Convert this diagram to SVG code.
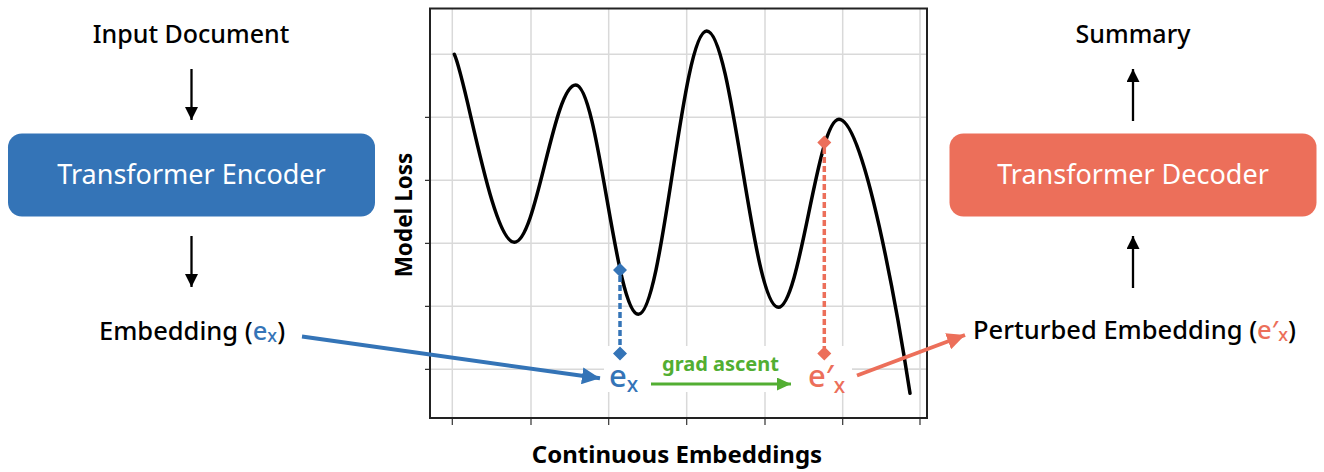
<svg xmlns="http://www.w3.org/2000/svg" width="1324" height="472" viewBox="0 0 1324 472">
<defs>
<style>
.t{font-family:"Noto Sans","Liberation Sans",sans-serif;fill:#000;font-weight:500}
.b{font-weight:bold}
.w{fill:#fff;font-weight:400}
.grid{stroke:#d9d9d9;stroke-width:1.5;fill:none}
.tick{stroke:#333;stroke-width:1.2}
.blk{stroke:#000;stroke-width:2.3;fill:none}
</style>
<marker id="ah" viewBox="0 0 13 13" refX="13" refY="6.5" markerWidth="13" markerHeight="13" markerUnits="userSpaceOnUse" orient="auto">
<path d="M0,0 L13,6.5 L0,13 Z" fill="#000"/>
</marker>
<marker id="ahb" viewBox="0 0 18 17" refX="18" refY="8.5" markerWidth="18" markerHeight="17" markerUnits="userSpaceOnUse" orient="auto">
<path d="M0,0 L18,8.5 L0,17 Z" fill="#3474B7"/>
</marker>
<marker id="ahr" viewBox="0 0 18 17" refX="18" refY="8.5" markerWidth="18" markerHeight="17" markerUnits="userSpaceOnUse" orient="auto">
<path d="M0,0 L18,8.5 L0,17 Z" fill="#EC6F5A"/>
</marker>
<marker id="ahg" viewBox="0 0 14 13" refX="14" refY="6.5" markerWidth="14" markerHeight="13" markerUnits="userSpaceOnUse" orient="auto">
<path d="M0,0 L14,6.5 L0,13 Z" fill="#52AE32"/>
</marker>
</defs>
<rect width="1324" height="472" fill="#fff"/>

<!-- plot -->
<g id="plot">
<g class="grid">
<path d="M452.3,8 V418 M531,8 V418 M608.7,8 V418 M686.7,8 V418 M765,8 V418 M842.7,8 V418 M920,8 V418"/>
<path d="M430,54.3 H927 M430,117.3 H927 M430,180.3 H927 M430,243.3 H927 M430,306.3 H927 M430,369.3 H927"/>
</g>
<rect x="604" y="346" width="248" height="46" fill="#fff"/>
<path class="grid" d="M852,369.3 H927"/>
<g class="tick">
<path d="M425,117.3 H430 M425,180.3 H430 M425,243.3 H430 M425,306.3 H430 M425,369.3 H430"/>
<path d="M452.3,418 V425 M531,418 V425 M608.7,418 V425 M686.7,418 V425 M765,418 V425 M842.7,418 V425 M920,418 V425"/>
</g>
<rect x="430" y="8.5" width="497" height="409.5" fill="none" stroke="#222" stroke-width="2"/>
<path d="M454.3,54.3 C466,78 492,242.3 514.3,242.3 C536.6,242.3 553.4,85 575.7,85 C598.4,85 615.6,314.3 638.3,314.3 C663.1,314.3 681.9,31 706.7,31 C732.7,31 752.3,307.3 778.3,307.3 C800.3,307.3 817,119.3 839,119.3 C864,119.3 898,315 910,393.3" fill="none" stroke="#000" stroke-width="3.5" stroke-linecap="round"/>
<text class="t b" x="0" y="0" font-size="22.5" text-anchor="middle" transform="translate(411.5,215) rotate(-90)">Model Loss</text>
<text class="t b" x="677" y="463" font-size="24" text-anchor="middle">Continuous Embeddings</text>
</g>

<!-- nodes -->
<g id="input-document">
<text class="t" x="191" y="43" font-size="25" text-anchor="middle">Input Document</text>
</g>
<g id="encoder">
<rect x="8" y="133.5" width="367" height="83" rx="14" fill="#3474B7"/>
<text class="t w" x="191.5" y="184" font-size="27" text-anchor="middle">Transformer Encoder</text>
</g>
<g id="embedding">
<text class="t" x="99" y="340" font-size="25.5">Embedding (<tspan fill="#3474B7">e</tspan><tspan fill="#3474B7" font-size="18" dy="2">x</tspan><tspan dy="-2">)</tspan></text>
</g>
<g id="summary">
<text class="t" x="1133" y="43" font-size="25" text-anchor="middle">Summary</text>
</g>
<g id="decoder">
<rect x="949.5" y="133.5" width="367" height="83" rx="14" fill="#EC6F5A"/>
<text class="t w" x="1133" y="184" font-size="27" text-anchor="middle">Transformer Decoder</text>
</g>
<g id="perturbed-embedding">
<text class="t" x="973" y="339" font-size="25.5">Perturbed Embedding (<tspan fill="#EC6F5A">e′</tspan><tspan fill="#EC6F5A" font-size="18" dy="2">x</tspan><tspan dy="-2">)</tspan></text>
</g>
<g id="ex-label">
<text class="t" x="609" y="387" font-size="31" style="fill:#3474B7">e<tspan font-size="21" dy="5">x</tspan></text>
</g>
<g id="epx-label">
<text class="t" x="808" y="387" font-size="31" style="fill:#EC6F5A">e′<tspan font-size="21" dy="6">x</tspan></text>
</g>
<g id="grad-ascent-label">
<text class="t b" x="720.5" y="371" font-size="20" text-anchor="middle" style="fill:#52AE32">grad ascent</text>
</g>

<!-- connectors -->
<g id="connectors">
<path class="blk" d="M191.5,69 V120" marker-end="url(#ah)"/>
<path class="blk" d="M191.5,236 V287" marker-end="url(#ah)"/>
<path class="blk" d="M1133,121 V69" marker-end="url(#ah)"/>
<path class="blk" d="M1133,288 V236" marker-end="url(#ah)"/>
<path d="M302,336.5 L600,378.3" stroke="#3474B7" stroke-width="4" fill="none" marker-end="url(#ahb)"/>
<path d="M857,375.5 L965,335" stroke="#EC6F5A" stroke-width="4" fill="none" marker-end="url(#ahr)"/>
<path d="M651,384 L791,384" stroke="#52AE32" stroke-width="3" fill="none" marker-end="url(#ahg)"/>
<path d="M620,276 V348" stroke="#3474B7" stroke-width="3.5" stroke-dasharray="6,3" fill="none"/>
<path d="M620,263 L627,270 L620,277 L613,270 Z M620,346.5 L627,353.5 L620,360.5 L613,353.5 Z" fill="#3474B7"/>
<path d="M824.3,148 V348" stroke="#EC6F5A" stroke-width="3.5" stroke-dasharray="6,3" fill="none"/>
<path d="M824.3,135.5 L831.3,142.5 L824.3,149.5 L817.3,142.5 Z M824.3,346.5 L831.3,353.5 L824.3,360.5 L817.3,353.5 Z" fill="#EC6F5A"/>
</g>
</svg>
